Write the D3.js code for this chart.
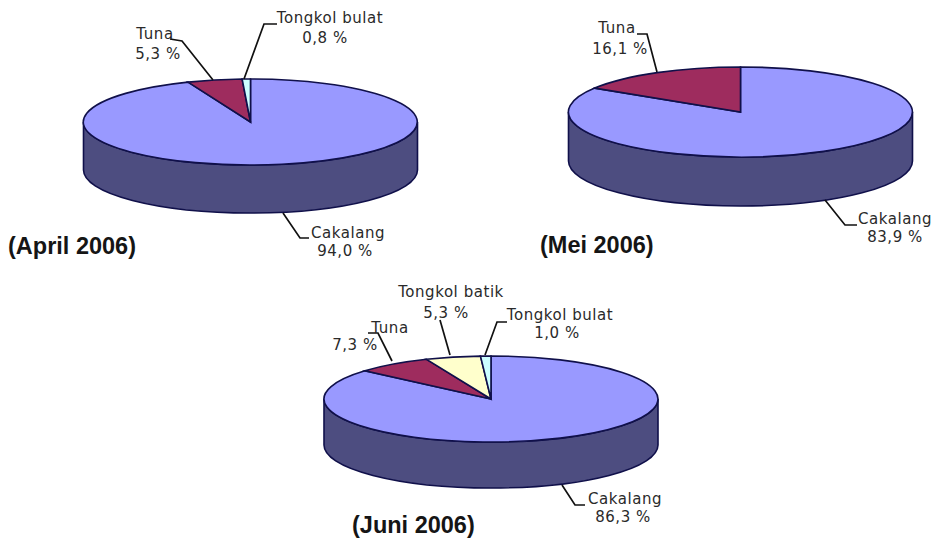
<!DOCTYPE html>
<html>
<head>
<meta charset="utf-8">
<script src="https://cdn.jsdelivr.net/npm/d3@7"></script>
<style>
    html, body { margin: 0; padding: 0; background: #fff; }
    svg { display: block; }
    .label { font-family: "DejaVu Sans", sans-serif; font-size: 15px; letter-spacing: 0.55px; fill: #2a2a2a; text-anchor: middle; }
    .title { font-family: "Liberation Sans", sans-serif; font-size: 23.5px; font-weight: bold; fill: #151515; }
    .leader { fill: none; stroke: #111; stroke-width: 1.7; }
    .slice { stroke: #10104a; stroke-width: 1.6; vector-effect: non-scaling-stroke; }
    .wall { fill: #4d4d80; stroke: #10104a; stroke-width: 1.6; }
</style>
</head>
<body>
<div id="chart"></div>
<script>

// Values
var aprilCategories = ["Cakalang", "Tuna", "Tongkol bulat"];
var aprilValues = [94.0, 5.3, 0.8];

var meiCategories = ["Cakalang", "Tuna"];
var meiValues = [83.9, 16.1];

var juniCategories = ["Cakalang", "Tuna", "Tongkol batik", "Tongkol bulat"];
var juniValues = [86.3, 7.3, 5.3, 1.0];

var sliceColors = {
    "Cakalang": "#9999ff",
    "Tuna": "#9e2c5e",
    "Tongkol batik": "#ffffcc",
    "Tongkol bulat": "#ccffff"
};

var svg = d3.select("#chart").append("svg")
    .attr("width", 936)
    .attr("height", 540);

/*
 * Pie3D - tilted pie, top face is a unit pie squashed with a scale transform
 * @param _config -- title, categories, values and the layout of this pie
 */
Pie3D = function(_config){
    this.config = _config;
    this.initVis();
}

Pie3D.prototype.initVis = function(){
    var vis = this;
    var c = vis.config;

    vis.g = svg.append("g");

    // wall below the front half of the ellipse
    vis.g.append("path")
        .attr("class", "wall")
        .attr("d", "M" + (c.cx - c.rx) + "," + c.cy
            + "A" + c.rx + "," + c.ry + " 0 0 0 " + (c.cx + c.rx) + "," + c.cy
            + "V" + (c.cy + c.depth)
            + "A" + c.rx + "," + c.ry + " 0 0 1 " + (c.cx - c.rx) + "," + (c.cy + c.depth)
            + "Z");

    vis.pie = d3.pie().sort(null);
    vis.arc = d3.arc().innerRadius(0).outerRadius(1);

    vis.updateVis();
}

Pie3D.prototype.updateVis = function(){
    var vis = this;
    var c = vis.config;

    vis.g.append("g")
        .attr("transform", "translate(" + c.cx + "," + c.cy + ") scale(" + c.rx + "," + c.ry + ")")
        .selectAll(".slice")
        .data(vis.pie(c.values))
        .enter().append("path")
        .attr("class", "slice")
        .style("fill", function(d, i){ return sliceColors[c.categories[i]]; })
        .attr("d", vis.arc);

    var line = d3.line();

    c.categories.forEach(function(name, i){
        var l = c.labels[name];

        vis.g.append("path")
            .attr("class", "leader")
            .attr("d", line(l.leader));

        vis.g.append("text")
            .attr("class", "label")
            .attr("x", l.nameAt[0])
            .attr("y", l.nameAt[1])
            .text(name);

        vis.g.append("text")
            .attr("class", "label")
            .attr("x", l.valueAt[0])
            .attr("y", l.valueAt[1])
            .text(c.values[i].toFixed(1).replace(".", ",") + " %");
    });

    vis.g.append("text")
        .attr("class", "title")
        .attr("x", c.titleAt[0])
        .attr("y", c.titleAt[1])
        .text(c.title);
}

new Pie3D({
    title: "(April 2006)", titleAt: [8, 254],
    categories: aprilCategories, values: aprilValues,
    cx: 250.5, cy: 122, rx: 167, ry: 43, depth: 48,
    labels: {
        "Cakalang": { nameAt: [348, 238], valueAt: [345, 256], leader: [[283, 213], [300, 238], [309, 238]] },
        "Tuna": { nameAt: [155, 39], valueAt: [158, 59], leader: [[170, 39], [182, 41], [213, 80]] },
        "Tongkol bulat": { nameAt: [330, 23], valueAt: [325, 43], leader: [[277, 24], [264, 24], [244, 79]] }
    }
});

new Pie3D({
    title: "(Mei 2006)", titleAt: [540, 253],
    categories: meiCategories, values: meiValues,
    cx: 740.5, cy: 112, rx: 172, ry: 45, depth: 49,
    labels: {
        "Cakalang": { nameAt: [895, 224], valueAt: [895, 242], leader: [[825, 200], [845, 225], [857, 225]] },
        "Tuna": { nameAt: [617, 33], valueAt: [620, 54], leader: [[637, 34], [647, 34], [657, 72]] }
    }
});

new Pie3D({
    title: "(Juni 2006)", titleAt: [352, 533],
    categories: juniCategories, values: juniValues,
    cx: 491, cy: 399, rx: 167, ry: 43, depth: 46,
    labels: {
        "Cakalang": { nameAt: [625, 504], valueAt: [623, 522], leader: [[562, 485], [575, 505], [585, 505]] },
        "Tuna": { nameAt: [390, 333], valueAt: [355, 350], leader: [[368, 333], [378, 333], [392, 361]] },
        "Tongkol batik": { nameAt: [451, 297], valueAt: [446, 318], leader: [[440, 320], [450, 355]] },
        "Tongkol bulat": { nameAt: [560, 320], valueAt: [557, 338], leader: [[507, 322], [497, 322], [485, 355]] }
    }
});

</script>
</body>
</html>
